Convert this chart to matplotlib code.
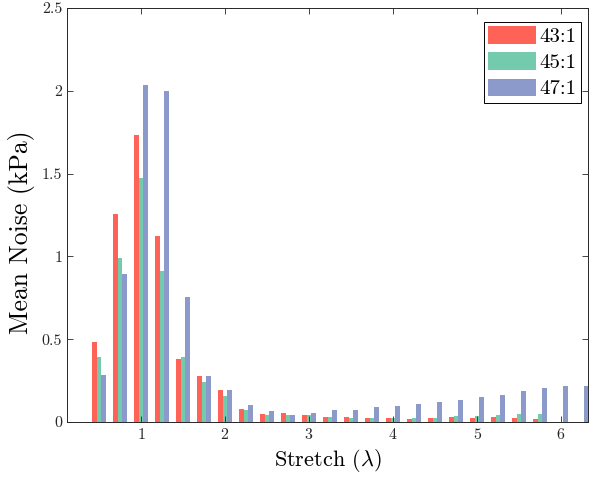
import numpy as np
import matplotlib
matplotlib.use('Agg')
import matplotlib.pyplot as plt

plt.rcParams['font.family'] = 'serif'
plt.rcParams['font.serif'] = ['cmr10']
plt.rcParams['mathtext.fontset'] = 'cm'
plt.rcParams['axes.formatter.use_mathtext'] = True

# stretch values (group positions) and mean noise for each ratio
stretch = [0.5, 0.75, 1.0, 1.25, 1.5, 1.75, 2.0, 2.25, 2.5, 2.75, 3.0, 3.25,
           3.5, 3.75, 4.0, 4.25, 4.5, 4.75, 5.0, 5.25, 5.5, 5.75, 6.0, 6.25]
noise_43 = [0.485, 1.258, 1.735, 1.121, 0.378, 0.279, 0.196, 0.077, 0.050, 0.056,
            0.045, 0.033, 0.031, 0.023, 0.022, 0.018, 0.022, 0.028, 0.023, 0.031,
            0.023, 0.021, 0.0, 0.0]
noise_45 = [0.394, 0.988, 1.473, 0.911, 0.390, 0.244, 0.159, 0.073, 0.041, 0.045,
            0.045, 0.029, 0.027, 0.026, 0.026, 0.026, 0.026, 0.036, 0.038, 0.042,
            0.050, 0.050, 0.0, 0.0]
noise_47 = [0.287, 0.893, 2.034, 2.000, 0.753, 0.281, 0.196, 0.105, 0.068, 0.045,
            0.057, 0.070, 0.074, 0.093, 0.095, 0.109, 0.123, 0.135, 0.153, 0.164,
            0.187, 0.206, 0.218, 0.216]
labels = ['43:1', '45:1', '47:1']
colors = ['#FF6357', '#73CAAD', '#8C9ACB']

fig = plt.figure(figsize=(5.89, 4.78), dpi=100)
ax = fig.add_axes([0.1138, 0.117, 0.8845, 0.866])

x = np.array(stretch)
w = 0.0556
for i, (vals, lab, c) in enumerate(zip([noise_43, noise_45, noise_47], labels, colors)):
    ax.bar(x + (i - 1) * w, vals, width=w, color=c, label=lab, linewidth=0)

ax.set_xlim(0.12, 6.32)
ax.set_ylim(0, 2.5)
ax.set_xticks([1, 2, 3, 4, 5, 6])
ax.set_yticks([0, 0.5, 1, 1.5, 2, 2.5])
ax.set_yticklabels(['0', '0.5', '1', '1.5', '2', '2.5'])
ax.tick_params(direction='in', top=True, right=True, length=4, width=0.6,
               labelsize=11.5, colors='#262626')
for sp in ax.spines.values():
    sp.set_linewidth(0.7)
    sp.set_color('#262626')

ax.set_xlabel(r'Stretch ($\lambda$)', fontsize=16, labelpad=4)
ax.set_ylabel('Mean Noise (kPa)', fontsize=18.5)
ax.yaxis.set_label_coords(-0.0614, 0.459)

leg = ax.legend(loc='upper right', bbox_to_anchor=(0.9866, 0.966), fontsize=15,
                fancybox=False, framealpha=1, handlelength=2.3, handleheight=0.9,
                handletextpad=0.2, labelspacing=0.3, borderpad=0.2, borderaxespad=0)
leg.get_frame().set_edgecolor('black')
leg.get_frame().set_linewidth(0.7)

fig.savefig('out.png', dpi=100)
